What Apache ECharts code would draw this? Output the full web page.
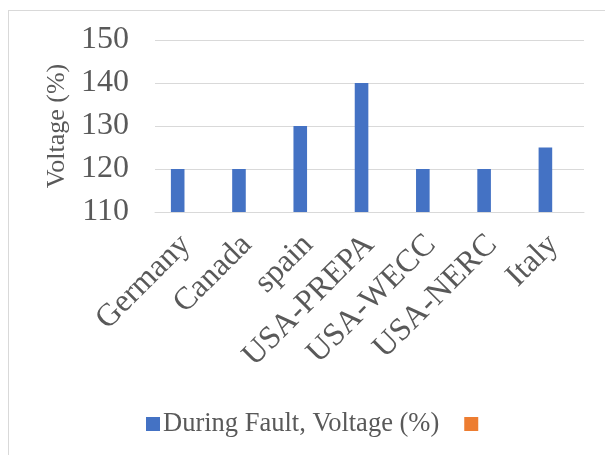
<!DOCTYPE html>
<html>
<head>
<meta charset="utf-8">
<script src="https://cdn.jsdelivr.net/npm/echarts@6/dist/echarts.min.js"></script>
<style>
html,body{margin:0;padding:0;background:#fff;}
#frame{position:absolute;left:8px;top:10px;width:700px;height:600px;border:1px solid #D9D9D9;box-sizing:border-box;}
#chart{position:absolute;left:0;top:0;width:605px;height:455px;}
</style>
</head>
<body>
<div id="frame"></div>
<div id="chart"></div>
<script>
const categories = ['Germany', 'Canada', 'spain', 'USA-PREPA', 'USA-WECC', 'USA-NERC', 'Italy'];
const duringFault = [120, 120, 130, 140, 120, 120, 125];
const secondSeries = [null, null, null, null, null, null, null];
const seriesNames = ['During Fault, Voltage (%)', ' '];
const yTicks = { min: 110, max: 150, interval: 10 };
const yAxisName = 'Voltage (%)';

const font = "'Liberation Serif', 'Times New Roman', serif";
const textColor = '#595959';
const chart = echarts.init(document.getElementById('chart'), null, { renderer: 'canvas' });
chart.setOption({
  animation: false,
  backgroundColor: 'transparent',
  textStyle: { fontFamily: font },
  grid: { left: 155, right: 21, top: 40, bottom: 243, containLabel: false },
  legend: {
    data: seriesNames,
    left: 141,
    top: 404,
    itemWidth: 14,
    itemHeight: 14,
    itemGap: 25,
    icon: 'rect',
    textStyle: { fontFamily: font, fontSize: 26.5, color: textColor, lineHeight: 30, padding: [0, 0, 0, -2] }
  },
  xAxis: {
    type: 'category',
    data: categories,
    axisTick: { show: false },
    axisLine: { show: true, lineStyle: { color: '#D9D9D9', width: 1 } },
    axisLabel: { rotate: 45, fontFamily: font, fontSize: 32, color: textColor, margin: 28, interval: 0 }
  },
  yAxis: {
    type: 'value',
    min: yTicks.min,
    max: yTicks.max,
    interval: yTicks.interval,
    name: yAxisName,
    nameLocation: 'middle',
    nameGap: 83,
    nameTextStyle: { fontFamily: font, fontSize: 26, color: textColor },
    axisLine: { show: false },
    axisTick: { show: false },
    splitLine: { lineStyle: { color: '#D9D9D9', width: 1 } },
    axisLabel: { fontFamily: font, fontSize: 32, color: textColor, margin: 26 }
  },
  series: [
    { name: seriesNames[0], type: 'bar', data: duringFault, barWidth: 13.6, barGap: '17%', itemStyle: { color: '#4472C4' } },
    { name: seriesNames[1], type: 'bar', data: secondSeries, barWidth: 13.6, itemStyle: { color: '#ED7D31' } }
  ]
});
</script>
</body>
</html>
